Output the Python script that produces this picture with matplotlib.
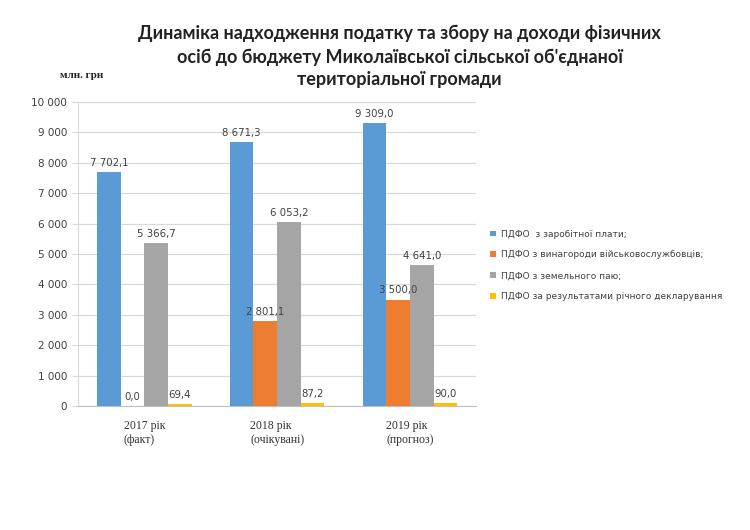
import matplotlib
matplotlib.use("Agg")
import matplotlib.pyplot as plt
import numpy as np

categories = ["2017 рік\n(факт)", "2018 рік\n(очікувані)", "2019 рік\n(прогноз)"]
series_names = [
    "ПДФО  з заробітної плати;",
    "ПДФО з винагороди військовослужбовців;",
    "ПДФО з земельного паю;",
    "ПДФО за результатами річного декларування",
]
salary = [7702.1, 8671.3, 9309.0]
military = [0.0, 2801.1, 3500.0]
land = [5366.7, 6053.2, 4641.0]
declaration = [69.4, 87.2, 90.0]
yticks = [0, 1000, 2000, 3000, 4000, 5000, 6000, 7000, 8000, 9000, 10000]
colors = ["#5B9BD5", "#ED7D31", "#A5A5A5", "#FFC000"]
title = ("Динаміка надходження податку та збору на доходи фізичних\n"
         "осіб до бюджету Миколаївської сільської об'єднаної\n"
         "територіальної громади")

def fmt(v, decimals=1):
    s = f"{v:,.{decimals}f}"
    return s.replace(",", " ").replace(".", ",")

fig = plt.figure(figsize=(7.5, 5.3), dpi=100)
ax = fig.add_axes([0.104, 0.234, 0.531, 0.5736])

x = np.arange(len(categories))
w = 0.178
all_series = [salary, military, land, declaration]
for i, (vals, name, c) in enumerate(zip(all_series, series_names, colors)):
    bars = ax.bar(x + (i - 1.5) * w, vals, width=w, color=c, label=name, zorder=3)
    texts = ax.bar_label(bars, labels=[fmt(v) for v in vals], padding=3,
                         fontsize=7.3, color="#404040", family="DejaVu Sans")
    for t in texts:
        t.set_zorder(10)

ax.set_xlim(-0.5, 2.5)
ax.set_ylim(0, 10000)
ax.set_yticks(yticks)
ax.set_yticklabels([fmt(v, 0) for v in yticks], fontsize=7.5, color="#404040")
ax.yaxis.grid(True, color="#D9D9D9", linewidth=0.9, zorder=0)
ax.tick_params(axis="y", length=4, color="#D9D9D9", pad=4)
ax.tick_params(axis="x", length=0, pad=10)
ax.set_xticks(x)
ax.set_xticklabels(categories, family="Liberation Serif", fontsize=8.5,
                   color="#333333", multialignment="left")
for s in ["top", "right"]:
    ax.spines[s].set_visible(False)
ax.spines["left"].set_color("#D9D9D9")
ax.spines["bottom"].set_color("#BFBFBF")

fig.text(0.533, 0.953, title, ha="center", va="top", fontsize=13,
         fontweight="bold", family="Lato", linespacing=1.42, color="#222222")
fig.text(0.08, 0.852, "млн. грн", fontsize=8, fontweight="bold",
         family="Liberation Serif", color="#222222")

leg = fig.legend(loc="upper left", bbox_to_anchor=(0.643, 0.582), frameon=False,
                 fontsize=6.5, handlelength=0.6, handleheight=0.6, handletextpad=0.6,
                 labelspacing=1.3)
for t in leg.get_texts():
    t.set_color("#404040")

fig.savefig("out.png", dpi=100, facecolor="white")
